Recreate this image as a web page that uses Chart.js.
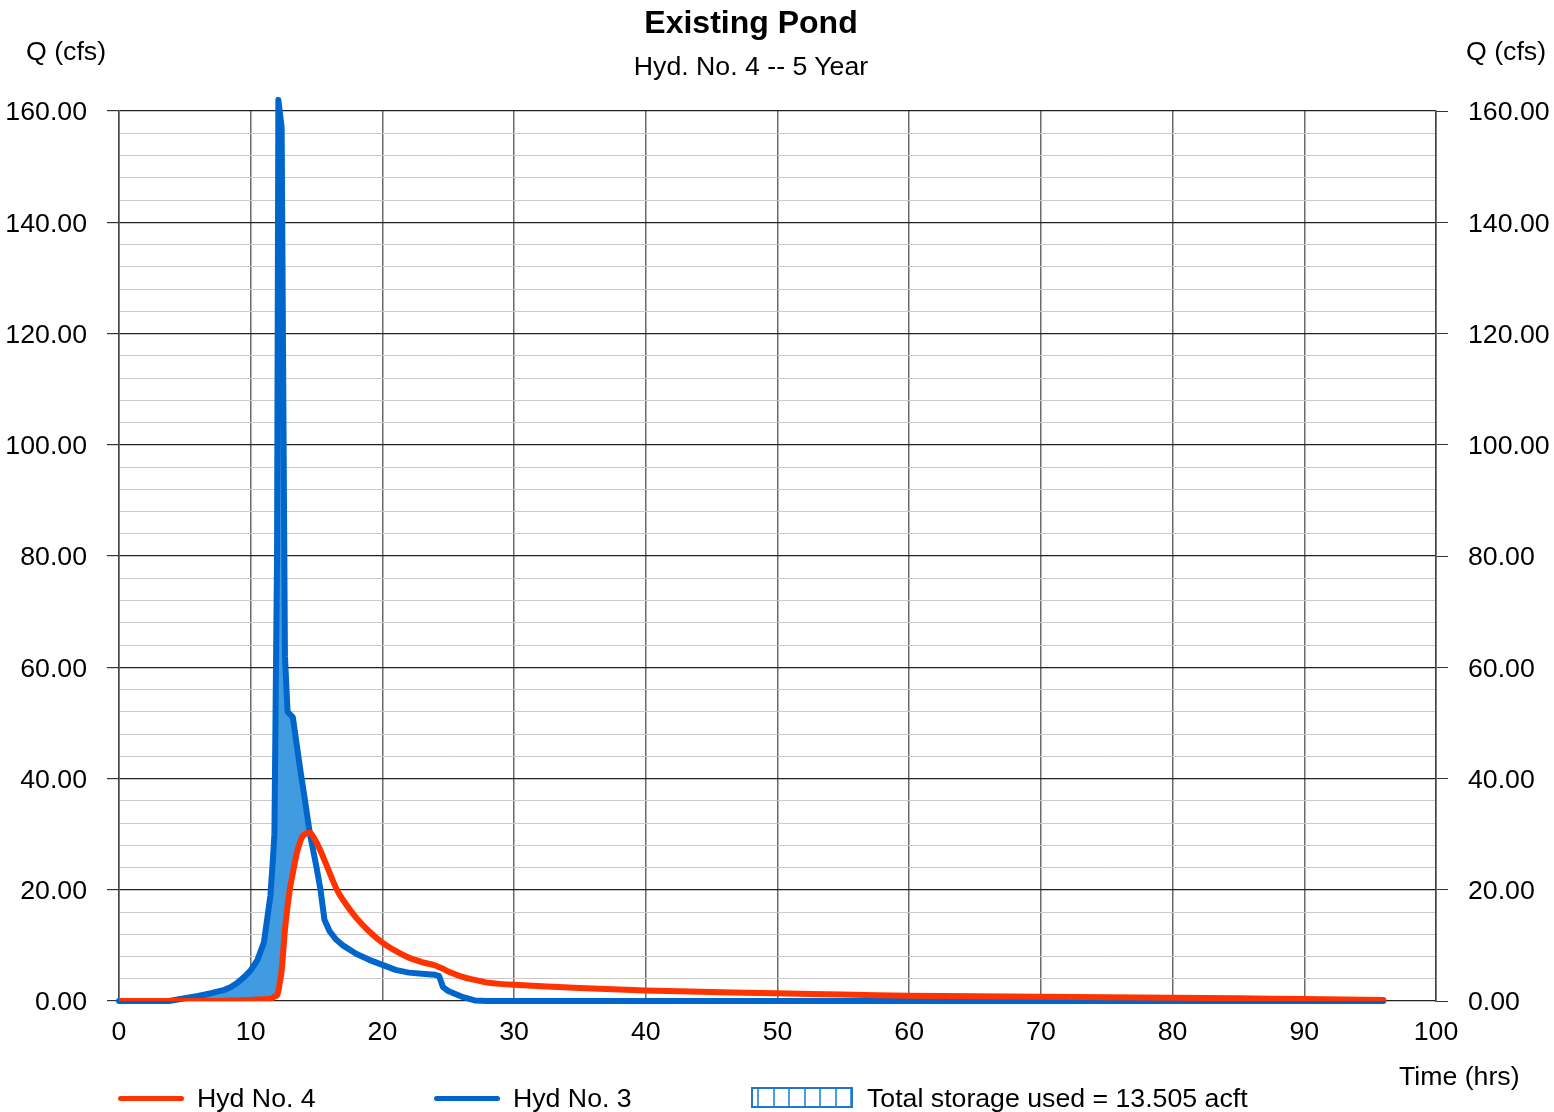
<!DOCTYPE html>
<html>
<head>
<meta charset="utf-8">
<title>Existing Pond</title>
<script src="https://cdn.jsdelivr.net/npm/chart.js@4"></script>
<style>
    body { margin: 0; background: #fff; }
    #wrap { position: relative; width: 1554px; height: 1112px; font-family: 'Liberation Sans', Arial, sans-serif; color: #000; }
    #hydChart { position: absolute; left: 0; top: 0; }
    .lbl { position: absolute; white-space: nowrap; font-size: 26.7px; line-height: 30px; }
    .title { font-weight: bold; font-size: 32px; line-height: 36px; }
    .legline { position: absolute; height: 5px; border-radius: 3px; }
    .legbox { position: absolute; box-sizing: border-box; border: 2px solid #2277cc;
        background: repeating-linear-gradient(to right, transparent 0 4px, #4a9fe0 4px 6px, transparent 6px 15.5px); }
</style>
</head>
<body>
<div id="wrap">
    <canvas id="hydChart" width="1554" height="1112"></canvas>
    <div class="lbl title" style="left:0; width:1502px; text-align:center; top:4px;">Existing Pond</div>
    <div class="lbl" style="left:0; width:1502px; text-align:center; top:51px;">Hyd. No. 4 -- 5 Year</div>
    <div class="lbl" style="left:26px; top:36px;">Q (cfs)</div>
    <div class="lbl" style="left:1466px; top:36px;">Q (cfs)</div>
    <div class="lbl" style="left:1399px; top:1061px;">Time (hrs)</div>

    <div class="legline" style="left:118px; width:66px; top:1096px; background:#ff3300;"></div>
    <div class="lbl" style="left:197px; top:1083px;">Hyd No. 4</div>
    <div class="legline" style="left:434px; width:66px; top:1096px; background:#0066cc;"></div>
    <div class="lbl" style="left:513px; top:1083px;">Hyd No. 3</div>
    <div class="legbox" style="left:751px; width:102px; top:1087px; height:21px;"></div>
    <div class="lbl" style="left:867px; top:1083px;">Total storage used = 13.505 acft</div>
</div>

<script>
// time (hrs)
const hours = [0, 2, 3.8, 5, 6, 7, 8, 8.5, 9, 9.5, 10, 10.5, 11, 11.5, 11.7, 11.8, 12.0, 12.1, 12.35, 12.6,
    12.8, 13.0, 13.2, 13.5, 13.8, 14.0, 14.5, 15.0, 15.3, 15.6, 16.0, 16.5, 17, 18, 19, 20, 21, 22, 23, 24,
    24.3, 24.6, 25, 26, 27, 28, 30, 35, 40, 45, 50, 55, 60, 65, 70, 75, 80, 85, 90, 96];

// Hyd No. 3 - inflow (cfs)
const hyd3Flow = [0, 0, 0, 0.5, 0.9, 1.4, 2.0, 2.5, 3.3, 4.3, 5.5, 7.3, 10.5, 19, 26, 30, 80, 162, 157, 62,
    52, 51.5, 51, 46, 41, 38, 30, 24, 20, 14.6, 12.5, 11, 10, 8.5, 7.4, 6.5, 5.6, 5.1, 4.9, 4.7,
    4.5, 2.5, 1.8, 0.8, 0.1, 0, 0, 0, 0, 0, 0, 0, 0, 0, 0, 0, 0, 0, 0, 0];

// Hyd No. 4 - outflow (cfs)
const hyd4Flow = [0, 0, 0, 0, 0, 0, 0.05, 0.1, 0.1, 0.15, 0.2, 0.25, 0.3, 0.4, 0.6, 0.8, 1.0, 1.8, 5.5, 12.8,
    17, 20.5, 23, 26.6, 28.9, 29.8, 30.3, 28.5, 27, 25.3, 23, 20.2, 18.2, 15, 12.5, 10.5, 9.0, 7.8, 7.0, 6.4,
    6.1, 5.8, 5.3, 4.4, 3.8, 3.3, 2.9, 2.35, 1.9, 1.6, 1.4, 1.15, 0.96, 0.85, 0.78, 0.68, 0.6, 0.48, 0.36, 0.2];

const yMin = 0, yMax = 160, yMinorStep = 4, yMajorStep = 20;
const xMin = 0, xMax = 100, xStep = 10;

document.addEventListener("DOMContentLoaded", function () {
    const ctx = document.getElementById('hydChart').getContext('2d');
    const font = { family: "'Liberation Sans', Arial, sans-serif", size: 26.7 };

    function isMajor(v) { return Math.abs(v % yMajorStep) < 1e-6; }

    const yTicks = {
        stepSize: yMinorStep,
        autoSkip: false,
        color: '#000',
        font: font,
        padding: 20,
        labelOffset: 2,
        callback: function (v) { return isMajor(v) ? v.toFixed(2) : ''; }
    };

    new Chart(ctx, {
        type: 'line',
        data: {
            datasets: [{
                label: 'Hyd No. 4',
                data: hours.map((h, i) => ({ x: h, y: hyd4Flow[i] })),
                borderColor: '#ff3300',
                borderWidth: 6,
                borderCapStyle: 'round',
                borderJoinStyle: 'round',
                pointRadius: 0,
                tension: 0.2,
                fill: false
            }, {
                label: 'Hyd No. 3',
                data: hours.map((h, i) => ({ x: h, y: hyd3Flow[i] })),
                borderColor: '#0066cc',
                borderWidth: 6,
                borderCapStyle: 'round',
                borderJoinStyle: 'round',
                pointRadius: 0,
                tension: 0,
                clip: false,
                fill: { target: 0, above: '#419be0', below: 'rgba(0,0,0,0)' }
            }]
        },
        options: {
            responsive: false,
            animation: false,
            devicePixelRatio: 1,
            layout: { padding: { top: 111, left: 0, right: 0, bottom: 0 } },
            plugins: {
                legend: { display: false },
                title: { display: false },
                tooltip: { enabled: false }
            },
            scales: {
                x: {
                    type: 'linear',
                    min: xMin,
                    max: xMax,
                    ticks: { stepSize: xStep, color: '#000', font: font, padding: 16, maxRotation: 0, autoSkip: false },
                    grid: { color: '#6a6a6a', lineWidth: 1.5, drawTicks: false },
                    border: { display: false },
                    afterFit: function (scale) { scale.height = 111; }
                },
                y: {
                    position: 'left',
                    min: yMin,
                    max: yMax,
                    ticks: yTicks,
                    grid: {
                        color: c => isMajor(c.tick.value) ? '#222' : '#c9c9c9',
                        lineWidth: c => isMajor(c.tick.value) ? 1.2 : 1,
                        tickColor: c => isMajor(c.tick.value) ? '#333' : 'rgba(0,0,0,0)',
                        tickLength: 12
                    },
                    border: { display: true, color: '#444', width: 1.5 },
                    afterFit: function (scale) { scale.width = 119; }
                },
                y2: {
                    position: 'right',
                    min: yMin,
                    max: yMax,
                    ticks: yTicks,
                    grid: {
                        drawOnChartArea: false,
                        tickColor: c => isMajor(c.tick.value) ? '#333' : 'rgba(0,0,0,0)',
                        tickLength: 12
                    },
                    border: { display: true, color: '#444', width: 1.5 },
                    afterFit: function (scale) { scale.width = 118; }
                }
            }
        }
    });
});
</script>
</body>
</html>
